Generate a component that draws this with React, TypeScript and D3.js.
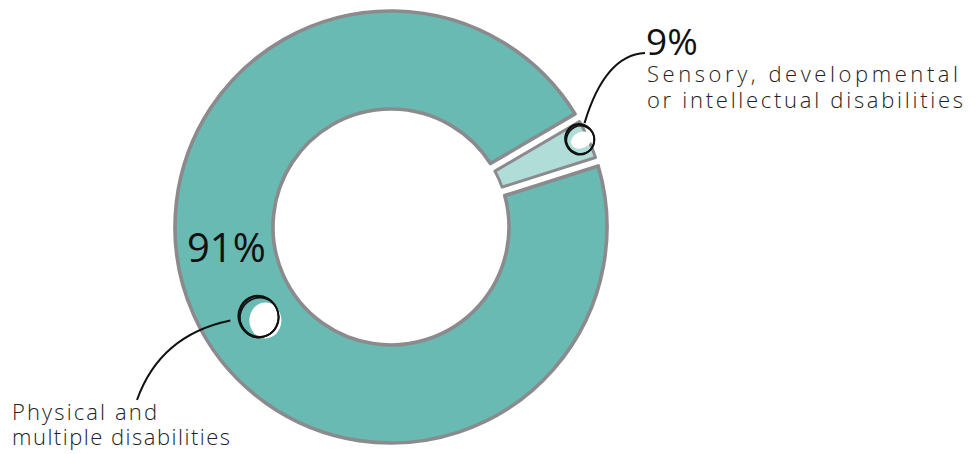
import React from "react";
import * as d3 from "d3";

// ---- data ----
const categories = [
  "Sensory, developmental or intellectual disabilities",
  "Physical and multiple disabilities",
];
const values = [9, 91];
const percentLabels = ["9%", "91%"];
const labelLines = [
  ["Sensory, developmental", "or intellectual disabilities"],
  ["Physical and", "multiple disabilities"],
];
const sliceColors = ["#b1ddd8", "#68bab3"];

// ---- layout ----
const W = 976;
const H = 454;
const CX = 391;
const CY = 227;
const R_OUT = 216;
const R_IN = 118;
const DEG = Math.PI / 180;

export default function App() {
  // the designer's angle scale: emphasises the large share
  const weight = d3.scalePow().exponent(1.5).domain([0, 100]).range([0, 100]);
  const pie = d3
    .pie<number>()
    .sort(null)
    .value((d) => weight(d))
    .startAngle(59.6 * DEG)
    .endAngle(59.6 * DEG + 2 * Math.PI)
    .padAngle(0.036);
  const arcs = pie(values);
  const arc = d3
    .arc<d3.PieArcDatum<number>>()
    .innerRadius(R_IN)
    .outerRadius(R_OUT);

  const light = arcs[0];
  const lightMid = (light.startAngle + light.endAngle) / 2;
  const [lx, ly] = d3.pointRadial(lightMid - 1 * DEG, 208);
  const [mx, my] = d3.pointRadial(236 * DEG, 160);

  const scribble = (x: number, y: number, r: number, key: string) => (
    <g key={key} fill="none" stroke="#111" strokeWidth={1.6}>
      <ellipse cx={x} cy={y} rx={r} ry={r * 1.05} transform={`rotate(-15 ${x} ${y})`} />
      <ellipse cx={x + 1.2} cy={y + 0.8} rx={r * 0.96} ry={r} transform={`rotate(20 ${x} ${y})`} />
      <ellipse cx={x + 0.5} cy={y - 0.6} rx={r * 1.02} ry={r * 0.97} transform={`rotate(60 ${x} ${y})`} />
    </g>
  );

  const labelFont = "'Open Sans', 'Lato', sans-serif";

  return (
    <svg
      width={W}
      height={H}
      style={{ position: "absolute", left: 0, top: 0, background: "#fff" }}
    >
      <g transform={`translate(${CX},${CY})`}>
        {arcs.map((a, i) => (
          <path
            key={categories[i]}
            d={arc(a) || ""}
            fill={sliceColors[i]}
            stroke="#8b8a8c"
            strokeWidth={i === 0 ? 3 : 3.6}
            strokeLinejoin="round"
          />
        ))}
        {/* white holes under the markers */}
        <ellipse cx={lx + 2} cy={ly + 1} rx={11} ry={8} fill="#fff" transform={`rotate(-25 ${lx + 2} ${ly + 1})`} />
        <ellipse cx={mx + 7} cy={my + 4} rx={16} ry={18} fill="#fff" />
      </g>

      {/* scribbled circles */}
      {scribble(CX + lx, CY + ly, 14.5, "s0")}
      {scribble(CX + mx, CY + my, 20, "s1")}

      {/* leader lines */}
      <path
        d={`M${CX + lx + 5},${CY + ly - 16} Q605,55 645,53`}
        fill="none"
        stroke="#111"
        strokeWidth={2}
      />
      <path
        d={`M${CX + mx - 28},${CY + my + 4} Q160,335 137,400`}
        fill="none"
        stroke="#111"
        strokeWidth={2}
      />

      {/* labels */}
      <text x={646} y={55} fontFamily={labelFont} fontSize={37} fill="#111" fontWeight={400}>
        {percentLabels[0]}
      </text>
      <text fontFamily={labelFont} fontSize={22} fontWeight={300} fill="#222">
        <tspan x={647} y={82} textLength={311} lengthAdjust="spacing">{labelLines[0][0]}</tspan>
        <tspan x={647} y={108} textLength={316} lengthAdjust="spacing">{labelLines[0][1]}</tspan>
      </text>

      <text x={187} y={262} fontFamily={labelFont} fontSize={40} fill="#111" fontWeight={400}>
        {percentLabels[1]}
      </text>
      <text fontFamily={labelFont} fontSize={22} fontWeight={300} fill="#222">
        <tspan x={12} y={420} textLength={145} lengthAdjust="spacing">{labelLines[1][0]}</tspan>
        <tspan x={12} y={445} textLength={218} lengthAdjust="spacing">{labelLines[1][1]}</tspan>
      </text>
    </svg>
  );
}
